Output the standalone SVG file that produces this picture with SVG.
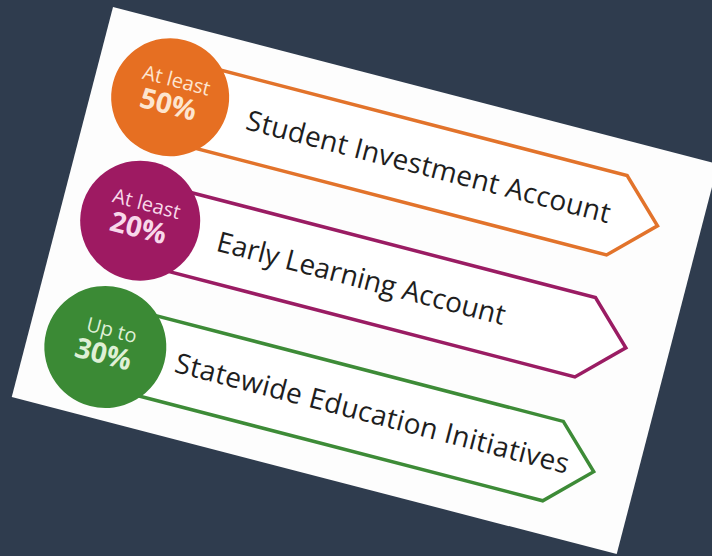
<svg xmlns="http://www.w3.org/2000/svg" width="712" height="556" viewBox="0 0 712 556">
<style>
.band{fill:#ffffff;stroke-width:3.5;stroke-linejoin:miter}
.lbl{font-family:"Open Sans","DejaVu Sans",sans-serif;font-size:28px;fill:#1e1e1e}
.top{font-family:"Open Sans","DejaVu Sans",sans-serif;font-size:20px;text-anchor:middle}
.pct{font-family:"Open Sans","DejaVu Sans",sans-serif;font-size:28px;font-weight:bold;text-anchor:middle}
</style>
<rect width="712" height="556" fill="#2f3c4e"/>
<g transform="translate(113,7) rotate(14.55)">
<rect id="card" x="0" y="0" width="625" height="403" fill="#fdfdfd"/>
<g id="connectors">
<polygon class="band" stroke="#e2732b" points="80,34 540,34 582,75 540,116 80,116"/>
<polygon class="band" stroke="#9a1c63" points="80,160 540,160 582,201 540,242 80,242"/>
<polygon class="band" stroke="#3d8b37" points="80,288 540,288 582,329 540,370 80,370"/>
</g>
<g id="node-sia">
<circle cx="78" cy="73" r="59" fill="#e66f22"/>
<text class="top" x="80" y="62" fill="#fde5cf">At least</text>
<text class="pct" x="78" y="90" fill="#fde5cf">50%</text>
<text class="lbl" x="158" y="85" textLength="375">Student Investment Account</text>
</g>
<g id="node-ela">
<circle cx="80" cy="200" r="60" fill="#9e1a62"/>
<text class="top" x="82" y="189" fill="#f8d8ea">At least</text>
<text class="pct" x="80" y="217" fill="#f8d8ea">20%</text>
<text class="lbl" x="160" y="210" textLength="297">Early Learning Account</text>
</g>
<g id="node-sei">
<circle cx="78" cy="331" r="61" fill="#3b8a35"/>
<text class="top" x="80" y="320" fill="#dff0d6">Up to</text>
<text class="pct" x="78" y="348" fill="#dff0d6">30%</text>
<text class="lbl" x="150" y="338" textLength="406">Statewide Education Initiatives</text>
</g>
</g>
</svg>
